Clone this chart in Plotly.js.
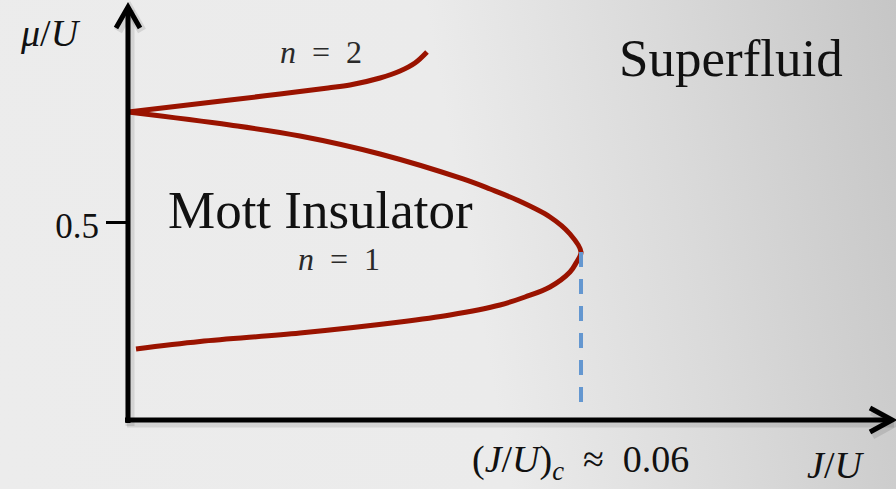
<!DOCTYPE html>
<html>
<head>
<meta charset="utf-8">
<script src="https://cdn.plot.ly/plotly-3.0.1.min.js"></script>
<style>
  html, body { margin: 0; padding: 0; }
  #chart {
    width: 896px; height: 489px;
    background: linear-gradient(80deg, #ececec 0%, #ebebeb 52%, #dadada 75%, #c6c6c6 100%);
  }
</style>
</head>
<body>
<div id="chart"></div>
<script>
// Mean-field phase diagram of the Bose-Hubbard model (schematic)

// n = 1 Mott lobe: upper boundary from J = 0 to the tip, then lower boundary back
const lobeJ  = [0, 0.01351, 0.02278, 0.03338, 0.04437, 0.04795, 0.05152, 0.05589, 0.05854, 0.06,
                0.05934, 0.05854, 0.05589, 0.05258, 0.04927, 0.04265, 0.03603, 0.02278, 0.00954, 0.00106];
const lobeMu = [0.7778, 0.7449, 0.7172, 0.6717, 0.6086, 0.5833, 0.5556, 0.5126, 0.4697, 0.4242,
                0.3965, 0.3737, 0.3359, 0.3106, 0.2904, 0.2652, 0.2475, 0.2197, 0.1982, 0.1793];

// lower boundary of the n = 2 lobe
const lobe2J  = [0, 0.01351, 0.02013, 0.02649, 0.02940, 0.03338, 0.03603, 0.03801, 0.03960];
const lobe2Mu = [0.7778, 0.8081, 0.8232, 0.8384, 0.8460, 0.8636, 0.8813, 0.9015, 0.9293];

// critical point marker
const critJ  = [0.06, 0.06];
const critMu = [0.4242, 0.0278];

// axis ticks
const yTickVals = [0.5];
const yTickText = ['0.5'];

const xRange = [0, 0.10119];
const yRange = [0, 1.04293];

// plot-area geometry (pixels)
const M = {l: 128, r: 4, t: 7, b: 69};
const W = 896, H = 489;
const pw = W - M.l - M.r, ph = H - M.t - M.b;
const px = x => (x - M.l) / pw;          // page x -> paper x
const py = y => (H - M.b - y) / ph;      // page y -> paper y

const red = '#9a1300';
const serif = '"Liberation Serif"';
const sp = '\u2002';   // en space, for math-style spacing around relations

const traces = [
  {x: lobeJ, y: lobeMu, mode: 'lines', line: {color: red, width: 5, shape: 'spline', smoothing: 1},
   hoverinfo: 'skip', cliponaxis: false},
  {x: lobe2J, y: lobe2Mu, mode: 'lines', line: {color: red, width: 5, shape: 'spline', smoothing: 1},
   hoverinfo: 'skip', cliponaxis: false},
  {x: critJ, y: critMu, mode: 'lines', line: {color: '#6497d0', width: 4, dash: '15px,12px'},
   hoverinfo: 'skip'}
];

function axisShapes(dx, dy, color, width, layer) {
  const base = {type: 'path', xref: 'paper', yref: 'paper', xsizemode: 'pixel', ysizemode: 'pixel',
                xanchor: 0, yanchor: 0, layer: layer, line: {color: color, width: width}};
  const top = ph;          // y-axis tip
  const right = pw;        // x-axis tip
  return [
    Object.assign({}, base, {path: `M${dx},${-3 + dy} L${dx},${top + dy}`}),
    Object.assign({}, base, {path: `M${-12 + dx},${top - 21 + dy} L${dx},${top + dy} L${12 + dx},${top - 21 + dy}`}),
    Object.assign({}, base, {path: `M${-3 + dx},${dy} L${right + dx},${dy}`}),
    Object.assign({}, base, {path: `M${right - 22 + dx},${12 + dy} L${right + dx},${dy} L${right - 22 + dx},${-12 + dy}`})
  ];
}

const shapes = [].concat(
  axisShapes(2, -3, 'rgba(0,0,0,0.10)', 9, 'below'),
  axisShapes(0, 0, '#000000', 5, 'above')
);

function label(text, x, y, size, color) {
  return {text: text, xref: 'paper', yref: 'paper', x: px(x), y: py(y),
          xanchor: 'center', yanchor: 'middle', showarrow: false,
          font: {family: serif, size: size, color: color || '#111111'}};
}

const annotations = [
  label('<i>μ</i>/<i>U</i>', 50, 33, 38),
  label(`<i>n</i>${sp}=${sp}2`, 321, 52, 32, '#2a2a2a'),
  label('Superfluid', 731, 58, 53),
  label('Mott Insulator', 320, 210, 53),
  label(`<i>n</i>${sp}=${sp}1`, 339, 259, 32, '#2a2a2a'),
  label(`(<i>J</i>/<i>U</i>)<sub><i>c</i></sub>${sp}≈${sp}0.06`, 580, 462, 38),
  label('<i>J</i>/<i>U</i>', 835, 465, 38)
];

const layout = {
  width: W, height: H,
  margin: M,
  font: {family: serif, color: '#111111'},
  paper_bgcolor: 'rgba(0,0,0,0)',
  plot_bgcolor: 'rgba(0,0,0,0)',
  showlegend: false,
  xaxis: {range: xRange, showgrid: false, zeroline: false, showline: false,
          showticklabels: false, ticks: '', fixedrange: true},
  yaxis: {range: yRange, showgrid: false, zeroline: false, showline: false,
          tickvals: yTickVals, ticktext: yTickText, ticks: 'outside', ticklen: 21,
          tickwidth: 3, tickcolor: '#000000', ticklabelstandoff: 0, ticklabelshift: 4,
          tickfont: {family: serif, size: 35, color: '#111111'}, fixedrange: true},
  shapes: shapes,
  annotations: annotations
};

Plotly.newPlot('chart', traces, layout, {displayModeBar: false, staticPlot: true});
</script>
</body>
</html>
